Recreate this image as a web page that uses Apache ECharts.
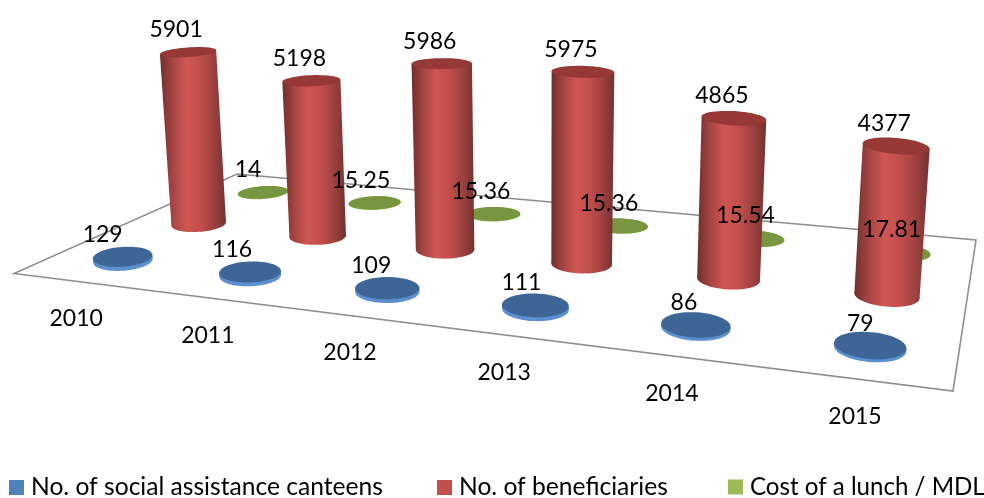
<!DOCTYPE html>
<html style="height:100%;">
<head>
    <meta charset="utf-8">
    <script src="https://cdn.jsdelivr.net/npm/echarts@6/dist/echarts.min.js"></script>
</head>
<body style="height:100%;margin:0;background:#fff;">
    <div id="main" style="width:984px;height:498px;"></div>
<script>
    // data
    var years = ['2010', '2011', '2012', '2013', '2014', '2015'];
    var canteens = [129, 116, 109, 111, 86, 79];
    var beneficiaries = [5901, 5198, 5986, 5975, 4865, 4377];
    var lunchCost = [14, 15.25, 15.36, 15.36, 15.54, 17.81];

    // floor corners on screen: front-left, front-right, back-right, back-left
    var floor = [[14, 273.5], [953, 391], [976, 240], [237, 174]];
    var vanish = [545, 5800];   // where the vertical edges meet
    var upK = 0.034;
    var uNudge = 0.0045;        // marks sit a little right of the cell centres
    var labelFont = '23px Lato';

    // camera: square (u,v) on the floor plus height z -> screen
    var dx1 = floor[1][0] - floor[2][0], dy1 = floor[1][1] - floor[2][1];
    var dx2 = floor[3][0] - floor[2][0], dy2 = floor[3][1] - floor[2][1];
    var dx3 = floor[0][0] - floor[1][0] + floor[2][0] - floor[3][0];
    var dy3 = floor[0][1] - floor[1][1] + floor[2][1] - floor[3][1];
    var det = dx1 * dy2 - dx2 * dy1;
    var g = (dx3 * dy2 - dx2 * dy3) / det;
    var h = (dx1 * dy3 - dx3 * dy1) / det;
    var a = floor[1][0] - floor[0][0] + g * floor[1][0];
    var b = floor[3][0] - floor[0][0] + h * floor[3][0];
    var d = floor[1][1] - floor[0][1] + g * floor[1][1];
    var e = floor[3][1] - floor[0][1] + h * floor[3][1];

    function depthW(u, v, z) {
        return g * u + h * v + 1 - upK * z;
    }

    function project(u, v, z) {
        var w = depthW(u, v, z);
        return [
            (a * u + b * v + floor[0][0] - upK * vanish[0] * z) / w,
            (d * u + e * v + floor[0][1] - upK * vanish[1] * z) / w
        ];
    }

    // disc outline: flatter further back and higher up, tilted a little with u
    function ring(u, v, z) {
        var c = project(u, v, z);
        var s = 1 / depthW(u, v, z);
        var ra = 30.6 * s;
        var rb = (10.8 - 4 * v + 1.4 * u - 3.8 * z) * s;
        var tilt = (-5 + 11 * u) * Math.PI / 180;
        var pts = [];
        for (var i = 0; i < 60; i++) {
            var t = i / 60 * Math.PI * 2;
            var x = ra * Math.cos(t), y = rb * Math.sin(t);
            pts.push([
                c[0] + x * Math.cos(tilt) - y * Math.sin(tilt),
                c[1] + x * Math.sin(tilt) + y * Math.cos(tilt)
            ]);
        }
        return pts;
    }

    function extreme(pts, dir) {
        var best = pts[0];
        pts.forEach(function (p) {
            if ((p[0] - best[0]) * dir > 0) best = p;
        });
        return best;
    }

    // one cylinder per data item; depth is the series row on the floor
    function cylinder(depth, look, layer) {
        return function (params, api) {
            var sys = params.coordSys;
            var pos = api.coord([api.value(0), api.value(1)]);
            var u = (pos[0] - sys.x) / sys.width + uNudge;
            var z = (sys.y + sys.height - pos[1]) / sys.height;
            var v = (depth + 0.5) / 3;
            var base = ring(u, v, 0), top = ring(u, v, z);
            var l0 = extreme(base, -1), r0 = extreme(base, 1);
            var l1 = extreme(top, -1), r1 = extreme(top, 1);
            var xa = Math.min(l0[0], l1[0]), xb = Math.max(r0[0], r1[0]);
            var side = new echarts.graphic.LinearGradient(xa, 0, xb, 0, look.side.map(function (c, i) {
                return {offset: i / (look.side.length - 1), color: c};
            }), true);
            var head = project(u, v, z);
            return {
                type: 'group',
                children: [
                    {type: 'polygon', z2: layer, shape: {points: base}, style: {fill: side}},
                    {type: 'polygon', z2: layer, shape: {points: [l0, r0, r1, l1]}, style: {fill: side}},
                    {type: 'polygon', z2: layer + 0.5, shape: {points: top}, style: {fill: look.top}},
                    {
                        type: 'text', z2: 20,
                        style: {
                            x: head[0] + look.labelDx + look.labelSlope * u, y: head[1] - 22.5,
                            text: String(api.value(1)), font: labelFont, fill: '#000',
                            align: 'center', verticalAlign: 'middle'
                        }
                    }
                ]
            };
        };
    }

    function seriesData(values) {
        return values.map(function (v, i) { return [years[i], v]; });
    }

    var blueLook = {top: '#3d6696', side: ['#5b8fd0', '#5b8fd0'], labelDx: -21, labelSlope: 12};
    var redLook = {
        top: '#953836',
        side: ['#6f2f2d', '#a84644', '#cf5653', '#c24f4c', '#a04240', '#743130'],
        labelDx: -12, labelSlope: 0
    };
    var greenLook = {top: '#78953f', side: ['#9bbb59', '#9bbb59'], labelDx: -15.5, labelSlope: 7};

    var myChart = echarts.init(document.getElementById('main'));
    var option = {
        animation: false,
        grid: {left: 0, right: 0, top: 0, bottom: 0},
        xAxis: {type: 'category', data: years, show: false},
        yAxis: {type: 'value', min: 0, max: 6000, show: false},
        legend: [
            {data: ['No. of social assistance canteens'], left: 9, size: 24.6},
            {data: ['No. of beneficiaries'], left: 437, size: 24.6},
            {data: ['Cost of a lunch / MDL'], left: 728, size: 24.1}
        ].map(function (l) {
            l.top = 475;
            l.padding = 0;
            l.icon = 'rect';
            l.itemWidth = 15;
            l.itemHeight = 15;
            l.itemGap = 0;
            l.textStyle = {fontFamily: 'Lato', fontSize: l.size, color: '#000', padding: [0, 0, 0, 2]};
            return l;
        }),
        series: [
            {
                // floor outline
                type: 'custom',
                silent: true,
                data: [[years[0], 0]],
                renderItem: function () {
                    return {
                        type: 'polygon', z2: 1,
                        shape: {points: [project(0, 0, 0), project(1, 0, 0), project(1, 1, 0), project(0, 1, 0)]},
                        style: {fill: 'none', stroke: '#8e8e8e', lineWidth: 1.6}
                    };
                }
            },
            {
                // year labels hang under the front edge
                type: 'custom',
                silent: true,
                data: seriesData(canteens),
                renderItem: function (params, api) {
                    var sys = params.coordSys;
                    var pos = api.coord([api.value(0), 0]);
                    var p = project((pos[0] - sys.x) / sys.width, 0, 0);
                    return {
                        type: 'text', z2: 20,
                        style: {
                            x: p[0], y: p[1] + 37.5, text: years[params.dataIndex],
                            font: labelFont, fill: '#000', align: 'center', verticalAlign: 'middle'
                        }
                    };
                }
            },
            {
                name: 'No. of social assistance canteens',
                type: 'custom', silent: true,
                itemStyle: {color: '#4f81bd'},
                data: seriesData(canteens),
                renderItem: cylinder(0, blueLook, 10)
            },
            {
                name: 'No. of beneficiaries',
                type: 'custom', silent: true,
                itemStyle: {color: '#c0504d'},
                data: seriesData(beneficiaries),
                renderItem: cylinder(1, redLook, 6)
            },
            {
                name: 'Cost of a lunch / MDL',
                type: 'custom', silent: true,
                itemStyle: {color: '#9bbb59'},
                data: seriesData(lunchCost),
                renderItem: cylinder(2, greenLook, 3)
            }
        ]
    };
    myChart.setOption(option);
</script>
</body>
</html>
